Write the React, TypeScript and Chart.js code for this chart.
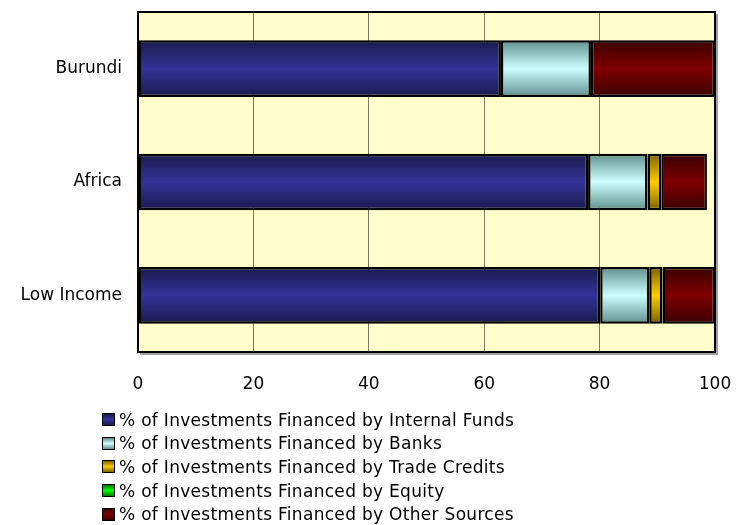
import React, { useEffect, useRef } from "react";
import { Chart, registerables } from "chart.js";

Chart.register(...registerables);

const categories = ["Burundi", "Africa", "Low Income"];
const seriesNames = [
  "% of Investments Financed by Internal Funds",
  "% of Investments Financed by Banks",
  "% of Investments Financed by Trade Credits",
  "% of Investments Financed by Equity",
  "% of Investments Financed by Other Sources",
];
const internalFunds = [62.9, 78.0, 80.1];
const banks = [15.6, 10.3, 8.5];
const tradeCredits = [0, 2.4, 2.3];
const equity = [0, 0, 0];
const otherSources = [21.5, 7.9, 9.1];
const xTicks = [0, 20, 40, 60, 80, 100];

// [edge, middle] colours of each series' gradient
const palette: [string, string][] = [
  ["#1a1a4d", "#333399"],
  ["#5f8f8f", "#ccffff"],
  ["#7a6200", "#ffcc00"],
  ["#007a00", "#00ff00"],
  ["#3a0000", "#800000"],
];

const FONT = "'DejaVu Sans', Verdana, sans-serif";

export default function App() {
  const ref = useRef<HTMLCanvasElement | null>(null);

  useEffect(() => {
    const canvas = ref.current;
    if (!canvas) return;
    const values = [internalFunds, banks, tradeCredits, equity, otherSources];

    const makeBg = (si: number) => (ctx: any) => {
      const chart = ctx.chart;
      const area = chart.chartArea;
      const [edge, mid] = palette[si];
      if (!area || ctx.dataIndex === undefined) return mid;
      const ys = chart.scales.y;
      const c = ys.getPixelForValue(ctx.dataIndex);
      const half = ((area.bottom - area.top) / categories.length) * 0.5 / 2;
      const g = chart.ctx.createLinearGradient(0, c - half, 0, c + half);
      g.addColorStop(0, edge);
      g.addColorStop(0.5, mid);
      g.addColorStop(1, edge);
      return g;
    };

    const framePlugin = {
      id: "frame",
      beforeDraw(chart: any) {
        const { ctx, chartArea: a } = chart;
        ctx.save();
        ctx.fillStyle = "#a0a0a0";
        ctx.fillRect(a.left + 2, a.top + 2, a.right - a.left + 1, a.bottom - a.top + 1);
        ctx.fillStyle = "#ffffcc";
        ctx.fillRect(a.left, a.top, a.right - a.left, a.bottom - a.top);
        ctx.restore();
      },
      afterDatasetsDraw(chart: any) {
        const { ctx, chartArea: a } = chart;
        ctx.save();
        ctx.strokeStyle = "#000";
        ctx.lineWidth = 2;
        ctx.strokeRect(a.left, a.top, a.right - a.left, a.bottom - a.top);
        ctx.restore();
      },
    };

    const chart = new Chart(canvas, {
      type: "bar",
      data: {
        labels: categories,
        datasets: values.map((v, i) => ({
          label: seriesNames[i],
          data: v,
          backgroundColor: makeBg(i),
          borderColor: "#000",
          borderWidth: 2.5,
          borderSkipped: false,
          categoryPercentage: 1,
          barPercentage: 0.5,
        })),
      },
      options: {
        indexAxis: "y",
        responsive: false,
        animation: false,
        layout: { padding: { top: 12, right: 21, bottom: 133, left: 0 } },
        plugins: { legend: { display: false }, tooltip: { enabled: false } },
        scales: {
          x: {
            stacked: true,
            min: 0,
            max: 100,
            afterBuildTicks: (s: any) => {
              s.ticks = xTicks.map((v) => ({ value: v }));
            },
            afterFit: (s: any) => {
              s.height = 40;
              s.paddingLeft = 0;
              s.paddingRight = 0;
            },
            grid: { color: "#7a7a6a", lineWidth: 1, drawTicks: false },
            border: { display: false },
            ticks: { font: { family: FONT, size: 17 }, color: "#000", padding: 22 },
          },
          y: {
            stacked: true,
            afterFit: (s: any) => {
              s.width = 138;
              s.paddingTop = 0;
              s.paddingBottom = 0;
            },
            grid: { display: false, drawTicks: false },
            border: { display: false },
            ticks: { font: { family: FONT, size: 17 }, color: "#000", padding: 16 },
          },
        },
      },
      plugins: [framePlugin],
    });
    return () => chart.destroy();
  }, []);

  return (
    <div style={{ position: "fixed", left: 0, top: 0, width: 736, height: 525, background: "#fff" }}>
      <canvas ref={ref} width={736} height={525} style={{ display: "block" }} />
      <div
        style={{
          position: "absolute",
          left: 102,
          top: 408,
          fontFamily: FONT,
          fontSize: 17,
          letterSpacing: 0.3,
          color: "#000",
        }}
      >
        {seriesNames.map((n, i) => (
          <div key={n} style={{ display: "flex", alignItems: "center", height: 23.6, whiteSpace: "nowrap" }}>
            <span
              style={{
                display: "inline-block",
                width: 11,
                height: 11,
                border: "1.5px solid #000",
                background: `linear-gradient(${palette[i][0]}, ${palette[i][1]} 50%, ${palette[i][0]})`,
                marginRight: 4,
              }}
            />
            <span>{n}</span>
          </div>
        ))}
      </div>
    </div>
  );
}
